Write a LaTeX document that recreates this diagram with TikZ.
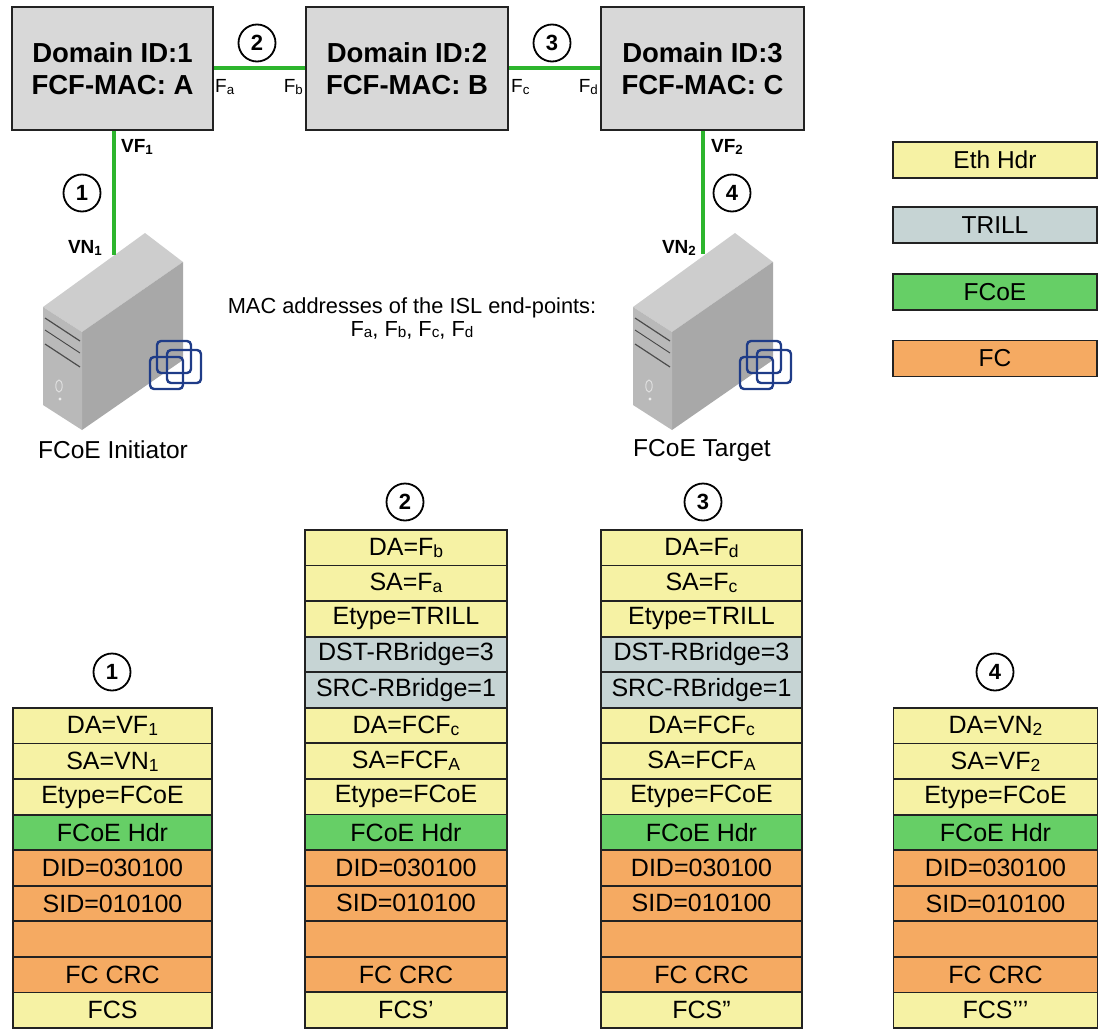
\documentclass[tikz,border=0pt]{standalone}
\usepackage{fontspec}
\setmainfont{Liberation Sans}
\definecolor{swgray}{HTML}{D8D8D8}
\definecolor{linkgreen}{HTML}{2DB52D}
\definecolor{eth}{HTML}{F6F2A4}
\definecolor{trill}{HTML}{C6D4D4}
\definecolor{fcoe}{HTML}{66CF66}
\definecolor{fc}{HTML}{F5AA62}
\definecolor{edge}{HTML}{222222}
\definecolor{srvtop}{HTML}{CDCDCD}
\definecolor{srvright}{HTML}{A8A8A8}
\definecolor{srvfront}{HTML}{B9B9B9}
\definecolor{iconblue}{HTML}{1F3C88}
\newcommand{\ssub}[1]{\raisebox{-0.08em}{\scalebox{0.7}{#1}}}
\begin{document}
\begin{tikzpicture}[x=1pt,y=-1pt,
  sw/.style={draw=edge, line width=2.2pt, fill=swgray, minimum height=123pt, inner sep=0pt,
    align=center, font=\bfseries\fontsize{27.5}{32}\selectfont},
  link/.style={draw=linkgreen, line width=4pt},
  num/.style={circle, draw=black, line width=1.8pt, minimum size=37pt, inner sep=0pt,
    font=\bfseries\fontsize{22}{24}\selectfont},
  port/.style={inner sep=0pt, font=\fontsize{19}{21}\selectfont},
  vport/.style={inner sep=0pt, font=\bfseries\fontsize{19}{21}\selectfont},
  row/.style={draw=edge, line width=1.8pt, minimum height=35.56pt, inner sep=0pt,
    font=\fontsize{25}{28}\selectfont},
  legend/.style={draw=edge, line width=1.8pt, minimum height=36pt, minimum width=204pt,
    inner sep=0pt, font=\fontsize{24.5}{28}\selectfont},
  caption/.style={inner sep=0pt, font=\fontsize{24.5}{28}\selectfont},
  server/.pic={
    \fill[srvtop] (43,307) -- (145,233) -- (183,262) -- (82,332) -- cycle;
    \fill[srvright] (82,332) -- (183,262) -- (183,360) -- (82,430) -- cycle;
    \fill[srvfront] (43,307) -- (82,332) -- (82,430) -- (43,405) -- cycle;
    \draw[gray!60!black, line width=1.2pt] (45,318) -- (80,341);
    \draw[gray!55!black, line width=0.9pt] (45,330) -- (80,353);
    \draw[gray!60!black, line width=1.2pt] (45,344) -- (80,367);
    \draw[white!75!gray, line width=1pt] (59,386) ellipse [x radius=3.2, y radius=6];
    \fill[white!85!gray] (60,399) circle [radius=1.6];
    \draw[iconblue, line width=2.4pt, rounded corners=4pt] (157,341) rectangle (191,373);
    \draw[iconblue, line width=2.4pt, rounded corners=4pt] (167,350) rectangle (201,383);
    \draw[iconblue, line width=2.4pt, rounded corners=4pt] (150,357) rectangle (183,389);
  }]
\useasboundingbox (0,0) rectangle (1100,1030);

% switches
\node[sw, minimum width=201pt] (A) at (112.5,68.5) {Domain ID:1\\FCF-MAC: A};
\node[sw, minimum width=202pt] (B) at (407,68.5) {Domain ID:2\\FCF-MAC: B};
\node[sw, minimum width=203pt] (C) at (702.5,68.5) {Domain ID:3\\FCF-MAC: C};

% servers
\pic at (0,0) {server};
\pic at (590,0) {server};
\coordinate (vn1) at (114,255);
\coordinate (vn2) at (703,254);

% links
\draw[link] (A.east) -- (B.west);
\draw[link] (B.east) -- (C.west);
\draw[link] (A.south -| vn1) -- (vn1);
\draw[link] (C.south -| vn2) -- (vn2);

% port labels
\node[port, anchor=west] (lFa) at (215,87) {F\ssub{a}};
\node[port, anchor=east] (lFb) at (303,87) {F\ssub{b}};
\node[port, anchor=west] (lFc) at (511,87) {F\ssub{c}};
\node[port, anchor=east] (lFd) at (598,87) {F\ssub{d}};
\node[vport, anchor=west] (lVF1) at (121,147) {VF\ssub{1}};
\node[vport, anchor=east] (lVN1) at (102,248) {VN\ssub{1}};
\node[vport, anchor=west] (lVF2) at (711,147) {VF\ssub{2}};
\node[vport, anchor=east] (lVN2) at (696,248) {VN\ssub{2}};

% link numbers
\node[num] (n2top) at (257,43) {2};
\node[num] (n3top) at (552,43) {3};
\node[num] (n1top) at (82,193) {1};
\node[num] (n4top) at (732,193) {4};

% captions
\node[caption] (ini) at (113,450) {FCoE Initiator};
\node[caption] (tgt) at (702,450) {FCoE Target};
\node[inner sep=0pt, align=center, font=\fontsize{21.8}{23}\selectfont] (mac) at (412,318)
  {MAC addresses of the ISL end-points:\\F\ssub{a}, F\ssub{b}, F\ssub{c}, F\ssub{d}};

% legend
\node[legend, fill=eth] (lgEth) at (995,160) {Eth Hdr};
\node[legend, fill=trill] (lgTrill) at (995,225) {TRILL};
\node[legend, fill=fcoe] (lgFcoe) at (995,292) {FCoE};
\node[legend, fill=fc] (lgFc) at (995,358.5) {FC};

% stack numbers
\node[num] (n1) at (112,672) {1};
\node[num] (n2) at (405,502) {2};
\node[num] (n3) at (703,502) {3};
\node[num] (n4) at (995,672) {4};

% stack 1
\foreach [count=\i] \t/\c in {DA=VF\ssub{1}/eth, SA=VN\ssub{1}/eth, Etype=FCoE/eth,
  FCoE Hdr/fcoe, DID=030100/fc, SID=010100/fc, {}/fc, FC CRC/fc, FCS/eth}
  \node[row, fill=\c, minimum width=199pt] (sA\i) at (112.5,{708+(\i-0.5)*35.56}) {\t};

% stack 2
\foreach [count=\i] \t/\c in {DA=F\ssub{b}/eth, SA=F\ssub{a}/eth, Etype=TRILL/eth,
  DST-RBridge=3/trill, SRC-RBridge=1/trill, DA=FCF\ssub{c}/eth, SA=FCF\ssub{A}/eth,
  Etype=FCoE/eth, FCoE Hdr/fcoe, DID=030100/fc, SID=010100/fc, {}/fc, FC CRC/fc, FCS’/eth}
  \node[row, fill=\c, minimum width=202pt] (sB\i) at (406,{530+(\i-0.5)*35.56}) {\t};

% stack 3
\foreach [count=\i] \t/\c in {DA=F\ssub{d}/eth, SA=F\ssub{c}/eth, Etype=TRILL/eth,
  DST-RBridge=3/trill, SRC-RBridge=1/trill, DA=FCF\ssub{c}/eth, SA=FCF\ssub{A}/eth,
  Etype=FCoE/eth, FCoE Hdr/fcoe, DID=030100/fc, SID=010100/fc, {}/fc, FC CRC/fc, FCS”/eth}
  \node[row, fill=\c, minimum width=201pt] (sC\i) at (701.5,{530+(\i-0.5)*35.56}) {\t};

% stack 4
\foreach [count=\i] \t/\c in {DA=VN\ssub{2}/eth, SA=VF\ssub{2}/eth, Etype=FCoE/eth,
  FCoE Hdr/fcoe, DID=030100/fc, SID=010100/fc, {}/fc, FC CRC/fc, FCS’’’/eth}
  \node[row, fill=\c, minimum width=204pt] (sD\i) at (995.5,{708+(\i-0.5)*35.56}) {\t};
\end{tikzpicture}
\end{document}
